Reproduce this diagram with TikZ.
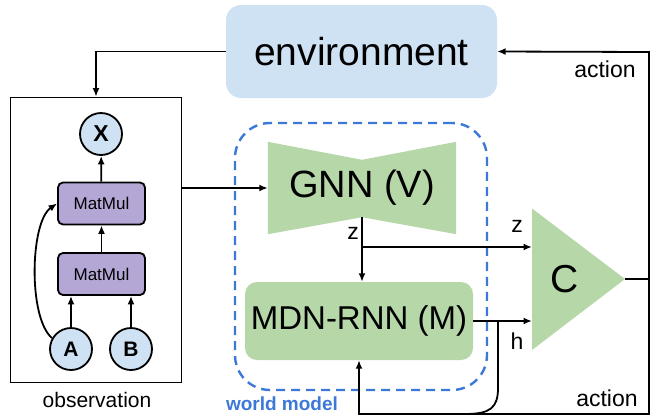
\documentclass[tikz,border=0pt]{standalone}
\usepackage{fontspec}
\setmainfont{Liberation Sans}
\definecolor{BleuEnvironnement}{HTML}{CFE2F3}
\definecolor{VertModele}{HTML}{B6D7A8}
\definecolor{VioletMatMul}{HTML}{B4A7D6}
\definecolor{BleuMonde}{HTML}{3C78D8}
\usetikzlibrary{arrows,arrows.meta}
\usetikzlibrary{calc}
\usetikzlibrary{backgrounds}
\usetikzlibrary{positioning}
\newcommand{\taille}[1]{\fontsize{#1}{#1}\selectfont}

\begin{document}
\begin{tikzpicture}[x=1pt, y=-1pt,
	fleche/.style={->,>={Latex[length=8.5pt,width=7pt]}, line width=1.8pt},
	trait/.style={line width=1.8pt},
	boule/.style={circle, draw, line width=1.8pt, fill=BleuEnvironnement, minimum size=42pt, inner sep=0pt, font=\taille{21}\bfseries},
	matmul/.style={draw, line width=1.8pt, rounded corners=5pt, fill=VioletMatMul, minimum width=87pt, minimum height=42pt, font=\taille{17}},
	etiquette/.style={font=\taille{23}, inner sep=0pt}]
	\useasboundingbox (0,0) rectangle (657,416);
	%
	%Environnement
	\node[fill=BleuEnvironnement, rounded corners=15pt, minimum width=271pt, minimum height=93pt, font=\taille{39}] (env) at (361.5,51.5) {environment};
	%
	%Observation
	\node[draw, line width=1.8pt, minimum width=171pt, minimum height=285pt] (obs) at (96,240) {};
	\node[font=\taille{21}] (obslabel) at (97,400) {observation};
	\node[boule, font=\taille{23}\bfseries] (X) at (101,134) {X};
	\node[matmul] (mm2) at (101.5,203.5) {MatMul};
	\node[matmul] (mm1) at (101.5,274) {MatMul};
	\node[boule] (A) at (71,349) {A};
	\node[boule] (B) at (131,349) {B};
	\draw[fleche] (A) -- (A |- mm1.south);
	\draw[fleche] (B) -- (B |- mm1.south);
	\draw[fleche] (mm1) -- (mm2);
	\draw[fleche] (mm2) -- (X);
	\draw[fleche] (A.150) .. controls (28,318) and (30,222) .. (mm2.west);
	%
	%World model
	\node[draw=BleuMonde, dash pattern=on 9pt off 6pt, line width=2.4pt, rounded corners=35pt, minimum width=252pt, minimum height=267pt] (monde) at (361,256.5) {};
	\node[font=\taille{19}\bfseries, text=BleuMonde, inner sep=1pt] (mondelabel) at (282,404) {world model};
	\node[minimum width=188pt, minimum height=92pt, font=\taille{38}] (gnn) at (362,188) {GNN (V)};
	\coordinate (gnnhaut) at ($(gnn.north)+(0,18)$);
	\coordinate (gnnbas) at ($(gnn.south)+(0,-17)$);
	\node[fill=VertModele, rounded corners=12pt, minimum width=228pt, minimum height=78pt, font=\taille{33}] (mdn) at (359,321) {MDN-RNN (M)};
	\node[font=\taille{39}] (C) at (565,279) {C};
	\coordinate (Cno) at (532,208.5);
	\coordinate (Cso) at (532,350);
	\coordinate (Cpointe) at (625,279);
	\begin{pgfonlayer}{background}
		\fill[VertModele] (gnn.north west) -- (gnnhaut) -- (gnn.north east) -- (gnn.south east) -- (gnnbas) -- (gnn.south west) -- cycle;
		\fill[VertModele] (Cno) -- (Cpointe) -- (Cso) -- cycle;
	\end{pgfonlayer}
	%
	%Connexions
	\draw[fleche] (env.west) -| (obs.north);
	\draw[fleche] (obs.east |- gnn.west) -- (gnn.west);
	\draw[fleche] (gnnbas) -- (gnnbas |- mdn.north);
	\coordinate (zsplit) at (362,247);
	\draw[fleche] (zsplit) -- (Cno |- zsplit);
	\node[etiquette] (zbas) at (353,233) {z};
	\node[etiquette] (zhaut) at (517,226) {z};
	\draw[fleche] (mdn.east) -- (Cno |- mdn.east);
	\node[etiquette] (h) at (517,341) {h};
	\coordinate (hsplit) at (498,321);
	\draw[trait] (hsplit) -- (498,388) .. controls (498,408) and (490,414) .. (465,414);
	%
	%Action
	\coordinate (actionhaut) at (649,52);
	\coordinate (actionbas) at (649,414);
	\draw[fleche] (Cpointe) -- (Cpointe -| actionhaut) -- (actionhaut) -- (env.east);
	\draw[fleche] (Cpointe -| actionbas) -- (actionbas) -- (actionbas -| mdn.south) -- (mdn.south);
	\node[etiquette] (actionlabelhaut) at (605,69) {action};
	\node[etiquette] (actionlabelbas) at (607,398) {action};
\end{tikzpicture}
\end{document}
